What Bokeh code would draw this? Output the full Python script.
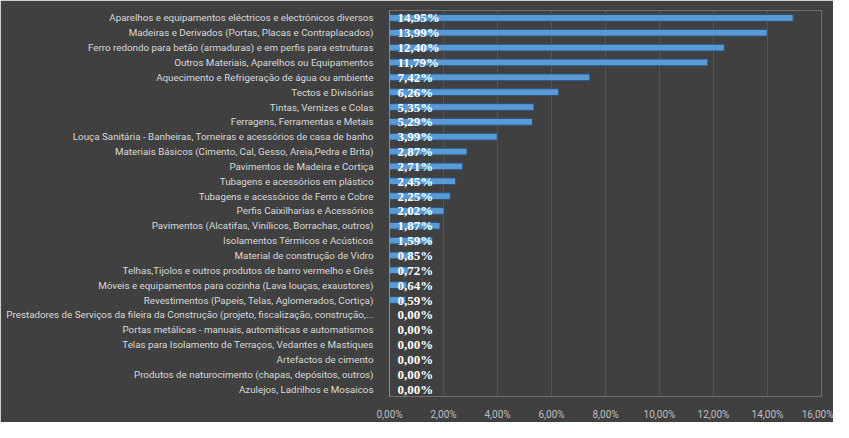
from bokeh.plotting import figure
from bokeh.models import ColumnDataSource, FactorRange, Range1d, FixedTicker, LabelSet
from bokeh.embed import file_html
from bokeh.resources import INLINE

categories = [
    "Aparelhos e equipamentos eléctricos e electrónicos diversos",
    "Madeiras e Derivados (Portas, Placas e Contraplacados)",
    "Ferro redondo para betão (armaduras) e em perfis para estruturas",
    "Outros Materiais, Aparelhos ou Equipamentos",
    "Aquecimento e Refrigeração de água ou ambiente",
    "Tectos e Divisórias",
    "Tintas, Vernizes e Colas",
    "Ferragens, Ferramentas e Metais",
    "Louça Sanitária - Banheiras, Torneiras e acessórios de casa de banho",
    "Materiais Básicos (Cimento, Cal, Gesso, Areia,Pedra e Brita)",
    "Pavimentos de Madeira e Cortiça",
    "Tubagens e acessórios em plástico",
    "Tubagens e acessórios de Ferro e Cobre",
    "Perfis Caixilharias e Acessórios",
    "Pavimentos (Alcatifas, Vinílicos, Borrachas, outros)",
    "Isolamentos Térmicos e Acústicos",
    "Material de construção de Vidro",
    "Telhas,Tijolos e outros produtos de barro vermelho e Grés",
    "Móveis e equipamentos para cozinha (Lava louças, exaustores)",
    "Revestimentos (Papeis, Telas, Aglomerados, Cortiça)",
    "Prestadores de Serviços da fileira da Construção (projeto, fiscalização, construção,...",
    "Portas metálicas - manuais, automáticas e automatismos",
    "Telas para Isolamento de Terraços, Vedantes e Mastiques",
    "Artefactos de cimento",
    "Produtos de naturocimento (chapas, depósitos, outros)",
    "Azulejos, Ladrilhos e Mosaicos",
]
values = [14.95, 13.99, 12.40, 11.79, 7.42, 6.26, 5.35, 5.29, 3.99, 2.87,
          2.71, 2.45, 2.25, 2.02, 1.87, 1.59, 0.85, 0.72, 0.64, 0.59,
          0.0, 0.0, 0.0, 0.0, 0.0, 0.0]
tick_values = [0, 2, 4, 6, 8, 10, 12, 14, 16]
tick_labels = ["0,00%", "2,00%", "4,00%", "6,00%", "8,00%", "10,00%", "12,00%", "14,00%", "16,00%"]

value_labels = [("%.2f%%" % v).replace(".", ",") for v in values]

BG = "#404040"

source = ColumnDataSource(dict(
    cat=categories,
    val=values,
    base=[0] * len(values),
    lab=value_labels,
))

p = figure(
    width=833, height=422,
    y_range=FactorRange(*list(reversed(categories))),
    x_range=Range1d(0, 16),
    output_backend="svg",
    toolbar_location=None,
    min_border_left=389, min_border_right=12,
    min_border_top=10, min_border_bottom=20,
)
p.background_fill_color = BG
p.border_fill_color = BG
p.outline_line_color = None

p.hbar(y="cat", left="base", right="val", height=0.45, source=source,
       fill_color="#5b9bd5", line_color="#2a5580", line_width=1)

labels = LabelSet(x="base", y="cat", text="lab", source=source,
                  x_offset=8, y_offset=0,
                  text_font="Roboto", text_font_style="bold", text_font_size="13px",
                  text_color="#ffffff", text_baseline="middle", text_align="left")
p.add_layout(labels)

# x axis
p.xaxis.ticker = FixedTicker(ticks=tick_values)
p.xaxis.major_label_overrides = {t: l for t, l in zip(tick_values, tick_labels)}
p.xaxis.axis_line_color = None
p.xaxis.major_tick_line_color = None
p.xaxis.minor_tick_line_color = None
p.xaxis.major_label_standoff = 6
p.xaxis.major_label_text_color = "#bfbfbf"
p.xaxis.major_label_text_font = "Roboto"
p.xaxis.major_label_text_font_size = "10px"

# y axis
p.yaxis.axis_line_color = "#8c8c8c"
p.yaxis.axis_line_width = 1
p.yaxis.major_tick_line_color = None
p.yaxis.minor_tick_line_color = None
p.yaxis.major_label_standoff = 10
p.yaxis.major_label_text_color = "#d9d9d9"
p.yaxis.major_label_text_font = "Roboto"
p.yaxis.major_label_text_font_size = "9.8px"

p.xgrid.grid_line_color = "#555555"
p.xgrid.grid_line_width = 1
p.ygrid.grid_line_color = None

open("out.html", "w").write(file_html(p, INLINE))
